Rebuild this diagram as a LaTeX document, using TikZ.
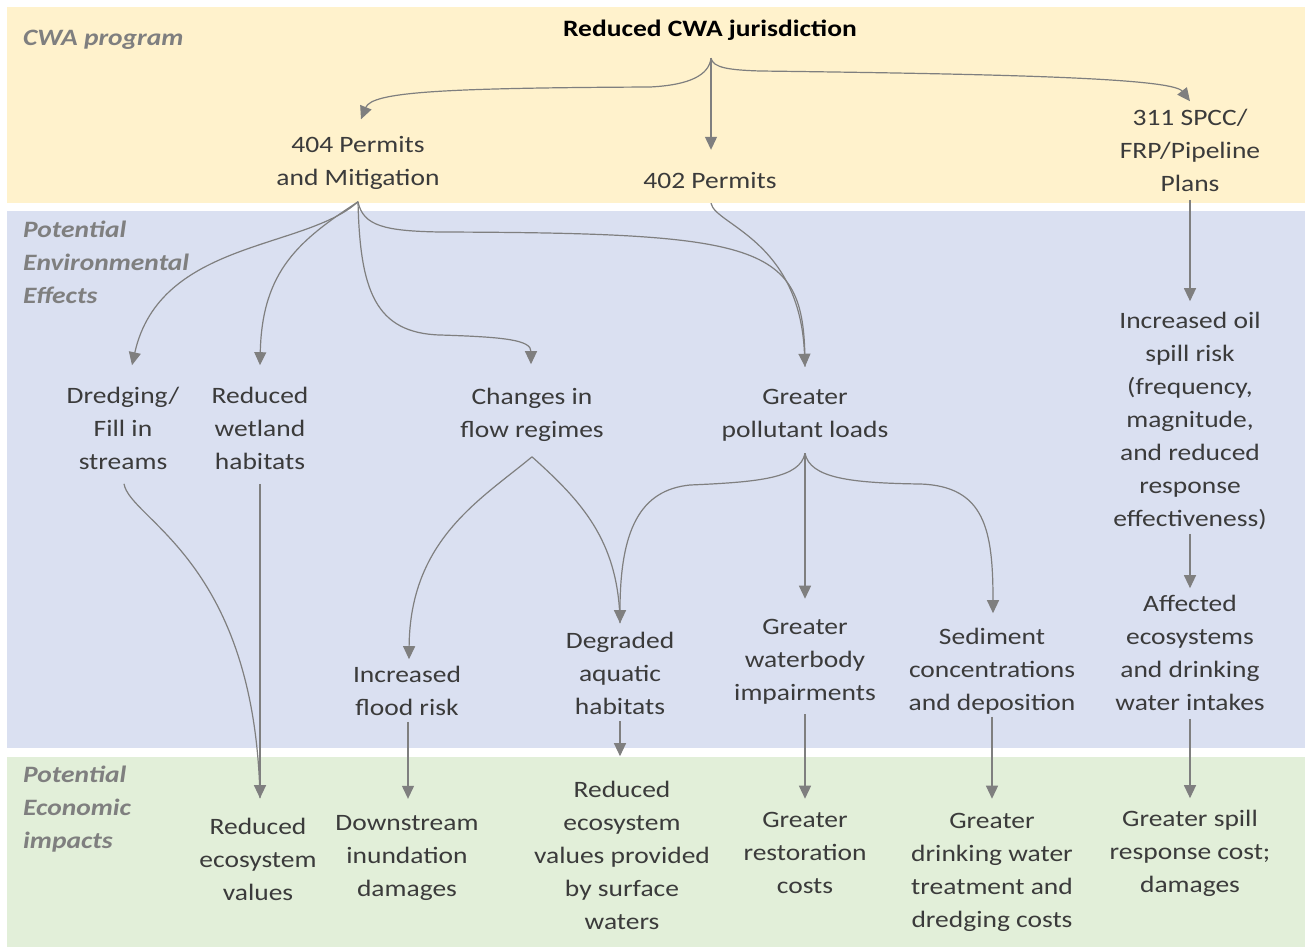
\documentclass[tikz,border=0pt]{standalone}
\usepackage{fontspec}
\setmainfont{Carlito}[FakeStretch=1.17]
\usetikzlibrary{arrows.meta,calc}
\definecolor{bandY}{HTML}{FFF2CC}
\definecolor{bandB}{HTML}{DAE0F1}
\definecolor{bandG}{HTML}{E2EFD9}
\definecolor{txt}{HTML}{3B3B3B}
\definecolor{lbl}{HTML}{7F7F7F}
\definecolor{arrc}{HTML}{7F7F7F}
\begin{document}
\begin{tikzpicture}[x=1bp,y=-1bp,
  box/.style={inner sep=0pt, align=center, text=txt, font=\fontsize{23.5bp}{33bp}\selectfont,
    execute at begin node=\strut, execute at end node=\strut},
  lab/.style={inner sep=0pt, anchor=west, align=left, text=lbl, font=\fontsize{23.5bp}{33bp}\selectfont\bfseries\itshape,
    execute at begin node=\strut, execute at end node=\strut},
  conn/.style={draw=arrc, line width=1.2bp, -{Triangle[length=13bp,width=12bp]}},
  plain/.style={draw=arrc, line width=1.2bp}
]
\fill[white] (0,0) rectangle (1305,947);
\useasboundingbox (0,0) rectangle (1305,947);
\fill[bandY] (7,7) rectangle (1305,203);
\fill[bandB] (7,211) rectangle (1305,748);
\fill[bandG] (7,757) rectangle (1305,947);

% band labels
\node[lab] (lcwa) at (23,39) {CWA program};
\node[lab] (lenv) at (23,267) {Potential\\Environmental\\Effects};
\node[lab] (lecon) at (23,812) {Potential\\Economic\\impacts};

% nodes
\node[box, text=black, font=\fontsize{23.5bp}{33bp}\selectfont\bfseries] (root) at (710,30) {Reduced CWA jurisdiction};
\node[box] (p404) at (358,165.5) {404 Permits\\and Mitigation};
\node[box] (p402) at (710,182) {402 Permits};
\node[box] (p311) at (1190,155) {311 SPCC/\\FRP/Pipeline\\Plans};
\node[box] (dredge) at (123,433) {Dredging/\\Fill in\\streams};
\node[box] (wet) at (260,433) {Reduced\\wetland\\habitats};
\node[box] (flow) at (532,418) {Changes in\\flow regimes};
\node[box] (poll) at (805,418) {Greater\\pollutant loads};
\node[box] (oil) at (1190,424) {Increased oil\\spill risk\\(frequency,\\magnitude,\\and reduced\\response\\effectiveness)};
\node[box] (flood) at (407,696) {Increased\\flood risk};
\node[box] (degr) at (620,678) {Degraded\\aquatic\\habitats};
\node[box] (wbody) at (805,665) {Greater\\waterbody\\impairments};
\node[box] (sed) at (992,674) {Sediment\\concentrations\\and deposition};
\node[box] (aff) at (1190,658) {Affected\\ecosystems\\and drinking\\water intakes};
\node[box] (eco) at (258,864) {Reduced\\ecosystem\\values};
\node[box] (down) at (407,861) {Downstream\\inundation\\damages};
\node[box] (redeco) at (622,860) {Reduced\\ecosystem\\values provided\\by surface\\waters};
\node[box] (rest) at (805,858) {Greater\\restoration\\costs};
\node[box] (drink) at (992,875) {Greater\\drinking water\\treatment and\\dredging costs};
\node[box] (spill) at (1190,856) {Greater spill\\response cost;\\damages};

% connector end points
\coordinate (sR) at ($(root.south)+(1,11.5)$);
\coordinate (t404) at ($(p404.north)+(3,-16.5)$);
\coordinate (t402) at ($(p402.north)+(1,-15.5)$);
\coordinate (t311) at ($(p311.north)+(0,-7.5)$);
\coordinate (s404) at ($(p404.south)+(0,6.5)$);
\coordinate (s402) at ($(p402.south)+(1,4.5)$);
\coordinate (s311) at ($(p311.south)+(0,-1.5)$);
\coordinate (tDr) at ($(dredge.north)+(9,-21.5)$);
\coordinate (tWet) at ($(wet.north)+(0,-21.5)$);
\coordinate (tFlow) at ($(flow.north)+(-1,-24)$);
\coordinate (tPoll) at ($(poll.north)+(0,-22)$);
\coordinate (tOil) at ($(oil.north)+(0,-10.5)$);
\coordinate (sFlow) at ($(flow.south)+(0,9)$);
\coordinate (sPoll) at ($(poll.south)+(0,6)$);
\coordinate (sOil) at ($(oil.south)+(0,-2.5)$);
\coordinate (tFlood) at ($(flood.north)+(2,-7)$);
\coordinate (tDeg) at ($(degr.north)+(0,-8.5)$);
\coordinate (tWb) at ($(wbody.north)+(0,-20.5)$);
\coordinate (tSed) at ($(sed.north)+(1,-14.5)$);
\coordinate (tAff) at ($(aff.north)+(0,-7)$);
\coordinate (sDr) at ($(dredge.south)+(1,4.5)$);
\coordinate (sWet) at ($(wet.south)+(0,4.5)$);
\coordinate (sFlood) at ($(flood.south)+(1,-4)$);
\coordinate (sDeg) at ($(degr.south)+(0,-3)$);
\coordinate (sWb) at ($(wbody.south)+(0,3.5)$);
\coordinate (sSed) at ($(sed.south)+(0,-3.5)$);
\coordinate (sAff) at ($(aff.south)+(0,-2)$);
\coordinate (tEco) at ($(eco.north)+(2,-19.5)$);
\coordinate (tDown) at ($(down.north)+(1,-16.5)$);
\coordinate (tRed) at ($(redeco.north)+(-2,-24.5)$);
\coordinate (tRest) at ($(rest.north)+(0,-13.5)$);
\coordinate (tDrink) at ($(drink.north)+(0,-14)$);
\coordinate (tSpill) at ($(spill.north)+(0,-11.5)$);

% top band
\draw[conn] (sR) .. controls (709,75) and (690,85) .. (650,87) .. controls (440,88) and (372,92) .. (t404);
\draw[conn] (sR) -- (t402);
\draw[conn] (sR) .. controls (713,68) and (730,70) .. (760,71) .. controls (1000,74) and (1172,78) .. (t311);

% from 404 / 402 / 311
\draw[conn] (s404) .. controls (305,250) and (160,240) .. (tDr);
\draw[conn] (s404) .. controls (300,240) and (262,270) .. (tWet);
\draw[conn] (s404) .. controls (360,290) and (375,333) .. (440,335) .. controls (505,337) and (531,340) .. (tFlow);
\draw[plain] (s404) .. controls (363,226) and (385,231) .. (440,232) .. controls (770,233) and (805,245) .. (tPoll);
\draw[conn] (s402) .. controls (715,225) and (800,240) .. (tPoll);
\draw[conn] (s311) -- (tOil);

% middle band
\draw[conn] (sFlow) .. controls (480,500) and (410,540) .. (tFlood);
\draw[plain] (sFlow) .. controls (580,500) and (619,540) .. (tDeg);
\draw[conn] (sPoll) .. controls (800,478) and (760,482) .. (690,485) .. controls (640,490) and (620,530) .. (tDeg);
\draw[conn] (sPoll) -- (tWb);
\draw[conn] (sPoll) .. controls (810,478) and (850,483) .. (920,484) .. controls (985,486) and (993,530) .. (tSed);
\draw[conn] (sOil) -- (tAff);

% to economic impacts
\draw[plain] (sDr) .. controls (130,520) and (255,560) .. (tEco);
\draw[conn] (sWet) -- (tEco);
\draw[conn] (sFlood) -- (tDown);
\draw[conn] (sDeg) -- (tRed);
\draw[conn] (sWb) -- (tRest);
\draw[conn] (sSed) -- (tDrink);
\draw[conn] (sAff) -- (tSpill);
\end{tikzpicture}
\end{document}
